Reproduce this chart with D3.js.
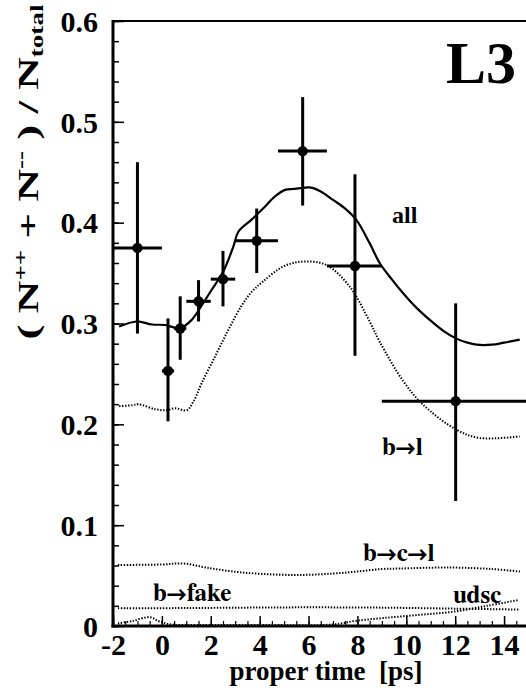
<!DOCTYPE html>
<html>
<head>
<meta charset="utf-8">
<script src="https://cdn.jsdelivr.net/npm/d3@7"></script>
<style>
  body { margin: 0; background: #fff; }
  svg { display: block; }
</style>
</head>
<body>
<div id="chart"></div>
<script>
// data points (proper time bins)
var ptX   = [-1, 0.25, 0.75, 1.5, 2.5, 3.88, 5.76, 7.9, 12.02];
var ptY   = [0.375, 0.253, 0.295, 0.322, 0.344, 0.382, 0.471, 0.357, 0.223];
var ptYlo = [0.290, 0.203, 0.264, 0.302, 0.317, 0.350, 0.417, 0.268, 0.124];
var ptYhi = [0.460, 0.305, 0.327, 0.343, 0.372, 0.414, 0.5245, 0.448, 0.320];
var binLo = [-2, 0.0, 0.5, 1.0, 2.0, 3.0, 4.75, 6.75, 9.0];
var binHi = [0, 0.5, 1.0, 2.0, 3.0, 4.75, 6.75, 9.0, 15.0];

// "all" prediction
var allX = [-1.75, -1.03, -0.4, 0.13, 0.74, 1.22, 1.63, 2.0, 2.51, 2.92, 3.13, 3.67, 4.14, 4.63, 5.04, 5.4, 5.77, 6.05, 6.5, 7.0, 7.5, 7.95, 8.5, 8.91, 9.4, 9.87, 10.4, 10.96, 11.5, 12.05, 12.5, 12.87, 13.5, 14.0, 14.64];
var allY = [0.297, 0.302, 0.299, 0.2985, 0.2953, 0.3036, 0.318, 0.332, 0.3515, 0.376, 0.391, 0.403, 0.414, 0.426, 0.4325, 0.4335, 0.4345, 0.435, 0.431, 0.4226, 0.414, 0.403, 0.3797, 0.360, 0.344, 0.330, 0.316, 0.3036, 0.293, 0.285, 0.281, 0.279, 0.279, 0.281, 0.284];

// b -> l
var blX = [-1.75, -1.2, -0.96, -0.28, 0.2, 0.54, 1.02, 1.29, 1.63, 2.17, 2.72, 3.27, 3.7, 4.14, 4.96, 5.77, 6.73, 7.68, 8.5, 8.91, 9.87, 10.68, 12.05, 13.0, 14.64];
var blY = [0.218, 0.219, 0.220, 0.215, 0.214, 0.216, 0.214, 0.2225, 0.241, 0.267, 0.2937, 0.318, 0.332, 0.3416, 0.3565, 0.3614, 0.358, 0.3367, 0.302, 0.282, 0.243, 0.2196, 0.1947, 0.1865, 0.188];

// b -> c -> l
var bclX = [-1.8, 0.0, 0.88, 1.8, 2.92, 4.2, 5.65, 7.0, 7.97, 9.0, 9.74, 11.79, 13.5, 14.65];
var bclY = [0.0605, 0.061, 0.062, 0.058, 0.054, 0.0515, 0.0506, 0.052, 0.054, 0.0565, 0.057, 0.058, 0.0565, 0.054];

// b -> fake
var fakeX = [-1.8, 1.0, 4.0, 6.0, 9.0, 12.0, 14.65];
var fakeY = [0.0175, 0.0178, 0.0183, 0.0185, 0.0182, 0.0172, 0.0163];

// udsc
var udscX = [-1.8, -1.2, -0.5, -0.1, 0.4, 1.5, 4.0, 7.0, 7.9, 9.1, 10.5, 11.86, 13.3, 14.6];
var udscY = [0.0025, 0.005, 0.0088, 0.0045, 0.0015, 0.001, 0.001, 0.0015, 0.005, 0.008, 0.011, 0.014, 0.02, 0.0258];

var xTicks = [-2, 0, 2, 4, 6, 8, 10, 12, 14];
var yTicks = [0, 0.1, 0.2, 0.3, 0.4, 0.5, 0.6];

var serif = "'Liberation Serif', 'Times New Roman', serif";
var arrowFont = "'FreeSerif', 'Liberation Serif', serif";

var w = 526, h = 696;
var x = d3.scaleLinear().domain([-2, 15]).range([113, 528.5]);
var y = d3.scaleLinear().domain([0, 0.6]).range([626, 21]);

var svg = d3.select("#chart").append("svg")
    .attr("width", w)
    .attr("height", h);

function cleanAxis(g, sw) {
    g.attr("font-family", null).attr("font-size", null);
    g.select(".domain").remove();
    g.selectAll("line").attr("stroke-width", sw);
}

// minor ticks
svg.append("g")
    .attr("transform", "translate(" + x(-2) + ",0)")
    .call(d3.axisLeft(y).tickValues(d3.range(0, 0.601, 0.02)).tickSize(-6).tickFormat(""))
    .call(cleanAxis, 1.5);
svg.append("g")
    .attr("transform", "translate(0," + y(0) + ")")
    .call(d3.axisBottom(x).tickValues(d3.range(-2, 15.01, 0.5)).tickSize(-5).tickFormat(""))
    .call(cleanAxis, 1.2);

// major ticks + labels
svg.append("g")
    .attr("transform", "translate(" + x(-2) + ",0)")
    .call(d3.axisLeft(y).tickValues(yTicks).tickSize(-11).tickPadding(15)
        .tickFormat(function (d) { return d === 0 ? "0" : d3.format(".1f")(d); }))
    .call(cleanAxis, 1.5)
    .call(function (g) {
        g.selectAll("text").attr("dy", "0.34em")
            .style("font-family", serif).style("font-weight", "bold").style("font-size", "30px");
    });
svg.append("g")
    .attr("transform", "translate(0," + y(0) + ")")
    .call(d3.axisBottom(x).tickValues(xTicks).tickSize(-10).tickPadding(8).tickFormat(d3.format("d")))
    .call(cleanAxis, 1.5)
    .call(function (g) {
        g.selectAll("text")
            .style("font-family", serif).style("font-weight", "bold").style("font-size", "30px")
            .text(function (d) { return d < 0 ? "-" + Math.abs(d) : d; });
    });

// frame
svg.append("line").attr("x1", x(-2)).attr("x2", w).attr("y1", y(0.6)).attr("y2", y(0.6))
    .attr("stroke", "#000").attr("stroke-width", 2);
svg.append("line").attr("x1", x(-2)).attr("x2", x(-2)).attr("y1", y(0.6) - 1).attr("y2", y(0) + 1.5)
    .attr("stroke", "#000").attr("stroke-width", 3);
svg.append("line").attr("x1", x(-2) - 1.5).attr("x2", w).attr("y1", y(0)).attr("y2", y(0))
    .attr("stroke", "#000").attr("stroke-width", 3);

// curves
var line = d3.line()
    .x(function (d) { return x(d[0]); })
    .y(function (d) { return y(d[1]); })
    .curve(d3.curveCatmullRom);

function drawCurve(xs, ys, dotted) {
    svg.append("path")
        .datum(d3.zip(xs, ys))
        .attr("d", line)
        .attr("fill", "none")
        .attr("stroke", "#000")
        .attr("stroke-width", dotted ? 2 : 2.2)
        .attr("stroke-dasharray", dotted ? "1.4,1.6" : null);
}
drawCurve(blX, blY, true);
drawCurve(bclX, bclY, true);
drawCurve(fakeX, fakeY, true);
drawCurve(udscX, udscY, true);
drawCurve(allX, allY, false);

// data points with error bars
var pts = ptX.map(function (v, i) {
    return { x: v, y: ptY[i], lo: ptYlo[i], hi: ptYhi[i], x0: binLo[i], x1: binHi[i] };
});
var pg = svg.append("g").selectAll("g").data(pts).enter().append("g");
pg.append("line")
    .attr("x1", function (d) { return x(d.x); }).attr("x2", function (d) { return x(d.x); })
    .attr("y1", function (d) { return y(d.lo); }).attr("y2", function (d) { return y(d.hi); })
    .attr("stroke", "#000").attr("stroke-width", 3);
pg.append("line")
    .attr("x1", function (d) { return x(d.x0); }).attr("x2", function (d) { return x(d.x1); })
    .attr("y1", function (d) { return y(d.y); }).attr("y2", function (d) { return y(d.y); })
    .attr("stroke", "#000").attr("stroke-width", 3);
pg.append("circle")
    .attr("cx", function (d) { return x(d.x); })
    .attr("cy", function (d) { return y(d.y); })
    .attr("r", 5.2);

// labels
function label(px, py, size, str, font) {
    return svg.append("text").attr("x", px).attr("y", py)
        .style("font-family", font || serif).style("font-weight", "bold")
        .style("font-size", size + "px").text(str);
}
label(446, 83, 60, "L3");
label(392, 223, 24, "all");
label(382, 455, 25, "b\u2192l", arrowFont);
label(363, 561, 25, "b\u2192c\u2192l", arrowFont);
label(453, 603, 25, "udsc", arrowFont);
label(153, 601, 25, "b\u2192fake", arrowFont);

// x title
label(326, 680, 27, "proper time  [ps]")
    .attr("text-anchor", "middle").attr("xml:space", "preserve");

// y title
var yt = svg.append("g");
var ytext = yt.append("text").attr("text-anchor", "middle")
    .style("font-family", serif).style("font-weight", "bold").style("font-size", "30px");
ytext.append("tspan").text("( N");
ytext.append("tspan").style("font-size", "18px").attr("baseline-shift", "60%").text("++");
ytext.append("tspan").text(" + N");
ytext.append("tspan").style("font-size", "18px").attr("baseline-shift", "60%").text("--");
ytext.append("tspan").text(" ) / N");
ytext.append("tspan").style("font-size", "18px").attr("baseline-shift", "-30%").text("total");
var len = ytext.node().getComputedTextLength();
yt.attr("transform", "translate(38,172) rotate(-90) scale(" + (335 / len) + ",1)");
</script>
</body>
</html>
